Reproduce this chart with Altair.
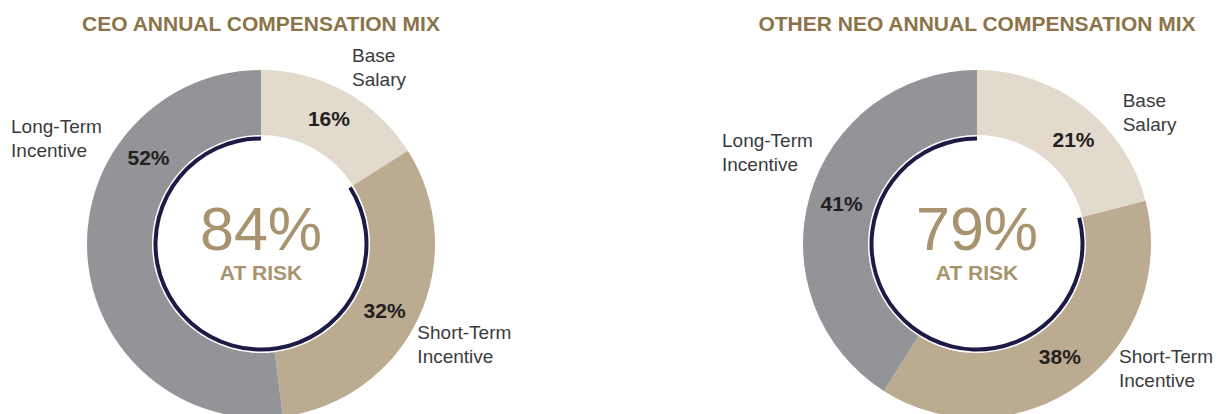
import altair as alt
import pandas as pd

# ---------------- data ----------------
panels = ["CEO", "Other NEO"]
titles = ["CEO ANNUAL COMPENSATION MIX", "OTHER NEO ANNUAL COMPENSATION MIX"]
categories = ["Base Salary", "Short-Term Incentive", "Long-Term Incentive"]
ceo_values = [16, 32, 52]
neo_values = [21, 38, 41]
at_risk = [84, 79]
label_lines = {"Base Salary": "Base\nSalary",
               "Short-Term Incentive": "Short-Term\nIncentive",
               "Long-Term Incentive": "Long-Term\nIncentive"}

# ---------------- layout (not data) ----------------
W, H = 1206, 406
centers_x = [253, 969]
center_y = 236
inner_r, outer_r = 109, 174
ring_r = (103.5, 107.5)
pct_radius = 141
# label anchors (first line) per panel & category: (angle in % of circle, radius px)
cat_anchor = {
    ("CEO", "Base Salary"): (7.18, 209),
    ("CEO", "Short-Term Incentive"): (33.25, 180),
    ("CEO", "Long-Term Incentive"): (81.97, 276),
    ("Other NEO", "Base Salary"): (12.66, 204),
    ("Other NEO", "Short-Term Incentive"): (35.70, 181.5),
    ("Other NEO", "Long-Term Incentive"): (81.11, 275),
}
pct_shift = {("CEO", "Long-Term Incentive"): 11.3,
             ("CEO", "Short-Term Incentive"): 1.0,
             ("Other NEO", "Base Salary"): 1.5}

colors = ["#e2dacd", "#bbab91", "#939498"]
ring_color = "#1d1a45"
gold = "#8c7449"
center_gold = "#a8936f"
FONT = "Liberation Sans, Arial"

# ---------------- tables ----------------
rows = []
for p, vals in zip(panels, [ceo_values, neo_values]):
    for i, (c, v) in enumerate(zip(categories, vals)):
        a, r = cat_anchor[(p, c)]
        rows.append({"panel": p, "category": c, "value": v, "order": i,
                     "label": label_lines[c], "lab_theta": a, "lab_r": r,
                     "shift": pct_shift.get((p, c), 0.0)})
df = pd.DataFrame(rows)

risk_df = pd.DataFrame({"panel": panels, "risk": at_risk, "title": titles,
                        "full": [100, 100]})

x_enc = alt.X("panel:N", scale=alt.Scale(type="point", domain=panels,
                                         range=centers_x, padding=0), axis=None)
theta_scale = alt.Scale(domain=[0, 100], range=[0, 6.283185307179586])

base = alt.Chart(df).transform_window(
    end="sum(value)", groupby=["panel"], sort=[alt.SortField("order")],
    frame=[None, 0]
).transform_calculate(
    start="datum.end - datum.value",
    mid="(datum.end - datum.value/2) + datum.shift",
    pct="datum.value + '%'"
)

arcs = base.mark_arc(innerRadius=inner_r, outerRadius=outer_r).encode(
    x=x_enc, y=alt.value(center_y),
    theta=alt.Theta("start:Q", scale=theta_scale, stack=None),
    theta2="end:Q",
    color=alt.Color("category:N", scale=alt.Scale(domain=categories, range=colors),
                    legend=None),
)

pct_labels = base.mark_text(radius=pct_radius, fontSize=21, fontWeight="bold",
                            font=FONT, color="#231f20", align="center",
                            baseline="middle").encode(
    x=x_enc, y=alt.value(center_y),
    theta=alt.Theta("mid:Q", scale=theta_scale, stack=None),
    text="pct:N",
)

cat_labels = base.mark_text(fontSize=19, font=FONT, color="#3b3b3d", align="left",
                            baseline="middle", lineBreak="\n", lineHeight=24).encode(
    x=x_enc, y=alt.value(center_y),
    theta=alt.Theta("lab_theta:Q", scale=theta_scale, stack=None),
    radius=alt.Radius("lab_r:Q", scale=None),
    text="label:N",
)

rbase = alt.Chart(risk_df).transform_calculate(
    start="100 - datum.risk", big="datum.risk + '%'"
)

ring = rbase.mark_arc(innerRadius=ring_r[0], outerRadius=ring_r[1],
                      color=ring_color).encode(
    x=x_enc, y=alt.value(center_y),
    theta=alt.Theta("start:Q", scale=theta_scale, stack=None),
    theta2="full:Q",
)

big_txt = rbase.mark_text(fontSize=61, font=FONT, color=center_gold,
                          align="center", baseline="alphabetic").encode(
    x=x_enc, y=alt.value(242), text="big:N")

risk_txt = rbase.mark_text(fontSize=21, fontWeight="bold", font=FONT,
                           color=center_gold, align="center",
                           baseline="alphabetic").encode(
    x=x_enc, y=alt.value(272), text=alt.value("AT RISK"))

title_txt = rbase.mark_text(fontSize=21, fontWeight="bold", font=FONT, color=gold,
                            align="center", baseline="alphabetic").encode(
    x=x_enc, y=alt.value(23), text="title:N")

chart = alt.layer(arcs, ring, pct_labels, cat_labels, big_txt, risk_txt,
                  title_txt).properties(
    width=W, height=H, padding=0,
    autosize=alt.AutoSizeParams(type="none"),
).configure_view(strokeWidth=0, stroke="transparent", fill="white")

chart.save("out.html", embed_options={"renderer": "svg", "actions": False})
